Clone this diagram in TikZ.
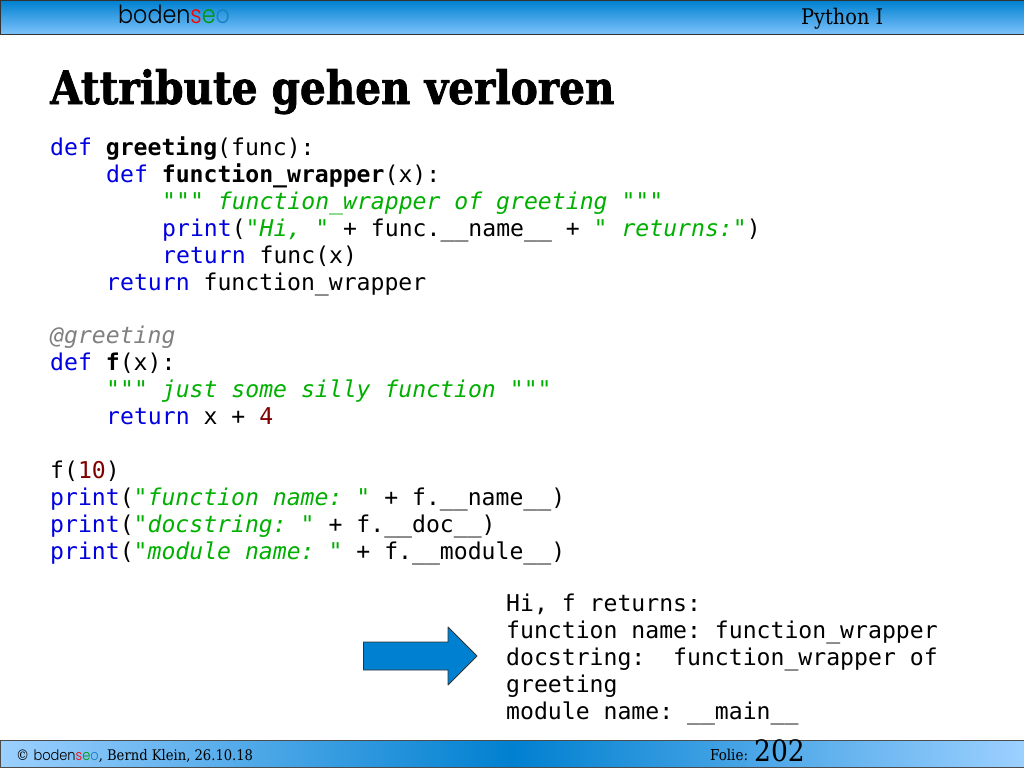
\documentclass[tikz,border=0pt]{standalone}
\usepackage{fontspec}
\usepackage{xcolor}
\usetikzlibrary{positioning}
\newfontfamily\codefont{DejaVu Sans Mono}
\newfontfamily\slabfont{DejaVu Serif Condensed}
\newfontfamily\titlefont[FakeBold=1.6,FakeStretch=0.98]{DejaVu Serif Condensed Bold}
\newfontfamily\logofont[FakeStretch=0.89]{Poppins Light}
\definecolor{kwblue}{HTML}{0000E0}
\definecolor{strgreen}{HTML}{00B000}
\definecolor{numred}{HTML}{800000}
\definecolor{decgray}{HTML}{808080}
\definecolor{barblue}{HTML}{0080D0}
\definecolor{barlight}{HTML}{80C4FC}
\definecolor{footlight}{HTML}{9CD0FF}
\newcommand{\kw}[1]{\textcolor{kwblue}{#1}}
\newcommand{\strg}[1]{\textcolor{strgreen}{\itshape #1}}
\newcommand{\numb}[1]{\textcolor{numred}{#1}}
\newcommand{\bodenlogo}{boden\textcolor{red}{s}\textcolor{green!60!black}{e}\textcolor{barblue!80!gray}{o}}
\tikzset{
  codeline/.style={anchor=base west,inner sep=0pt,font=\codefont\fontsize{23.12}{27}\selectfont\frenchspacing},
  barlabel/.style={anchor=base west,inner sep=0pt,font=\slabfont\fontsize{21.5}{24}\selectfont}
}
\begin{document}
\begin{tikzpicture}[x=1pt,y=1pt,line cap=round,line join=round]
        \useasboundingbox (0,0) rectangle (1024,-768);
        \fill[white] (0,0) rectangle (1024,-768);
        % bars
        \draw[color=black!80,line width=1pt,top color=barblue,bottom color=barlight] (0.5,-0.5) rectangle (1024,-35);
        \draw[color=black!70,line width=1pt,left color=footlight,right color=footlight,middle color=barblue] (0.5,-740) rectangle (1024,-767);
        \node[barlabel,font=\logofont\fontsize{25}{28}\selectfont] (logo) at (118,-24) {\bodenlogo};
        \node[barlabel] (course) at (801,-25) {Python I};
        \node[barlabel,font=\slabfont\fontsize{14.6}{17}\selectfont] (copyright) at (16,-760) {© {\logofont\bodenlogo}, Bernd Klein, 26.10.18};
        \node[barlabel,font=\slabfont\fontsize{15}{17}\selectfont] (folie) at (710,-760) {Folie:};
        \node[barlabel,font=\slabfont\fontsize{29.5}{32}\selectfont] (page) at (754,-761) {202};
        % title
        \node[anchor=base west,inner sep=0pt,font=\titlefont\fontsize{46}{50}\selectfont] (title) at (50,-104) {Attribute gehen verloren};
        % code
        \node[codeline] (l1) at (50,-155) {\kw{def} \textbf{greeting}(func):};
        \node[codeline] (l2) at (106,-182) {\kw{def} \textbf{function\_wrapper}(x):};
        \node[codeline] (l3) at (162,-209) {\strg{""" function\_wrapper of greeting """}};
        \node[codeline] (l4) at (162,-236) {\kw{print}(\strg{"Hi, "} + func.\_\_name\_\_ + \strg{" returns:"})};
        \node[codeline] (l5) at (162,-263) {\kw{return} func(x)};
        \node[codeline] (l6) at (106,-290) {\kw{return} function\_wrapper};
        \node[codeline] (l7) at (50,-343) {\textcolor{decgray}{\itshape @greeting}};
        \node[codeline] (l8) at (50,-370) {\kw{def} \textbf{f}(x):};
        \node[codeline] (l9) at (106,-397) {\strg{""" just some silly function """}};
        \node[codeline] (l10) at (106,-424) {\kw{return} x + \numb{4}};
        \node[codeline] (l11) at (50,-478) {f(\numb{10})};
        \node[codeline] (l12) at (50,-505) {\kw{print}(\strg{"function name: "} + f.\_\_name\_\_)};
        \node[codeline] (l13) at (50,-532) {\kw{print}(\strg{"docstring: "} + f.\_\_doc\_\_)};
        \node[codeline] (l14) at (50,-559) {\kw{print}(\strg{"module name: "} + f.\_\_module\_\_)};
        % output
        \draw[color=black!80,line width=0.8pt,fill=barblue] (363.5,-642) -- (448,-642) -- (448,-627) -- (477,-656) -- (448,-685) -- (448,-670) -- (363.5,-670) -- cycle;
        \node[codeline] (o1) at (506,-611) {Hi, f returns:};
        \node[codeline] (o2) at (506,-638) {function name: function\_wrapper};
        \node[codeline] (o3) at (506,-665) {docstring:\ \ function\_wrapper of};
        \node[codeline] (o4) at (506,-692) {greeting};
        \node[codeline] (o5) at (506,-719) {module name: \_\_main\_\_};
\end{tikzpicture}
\end{document}
